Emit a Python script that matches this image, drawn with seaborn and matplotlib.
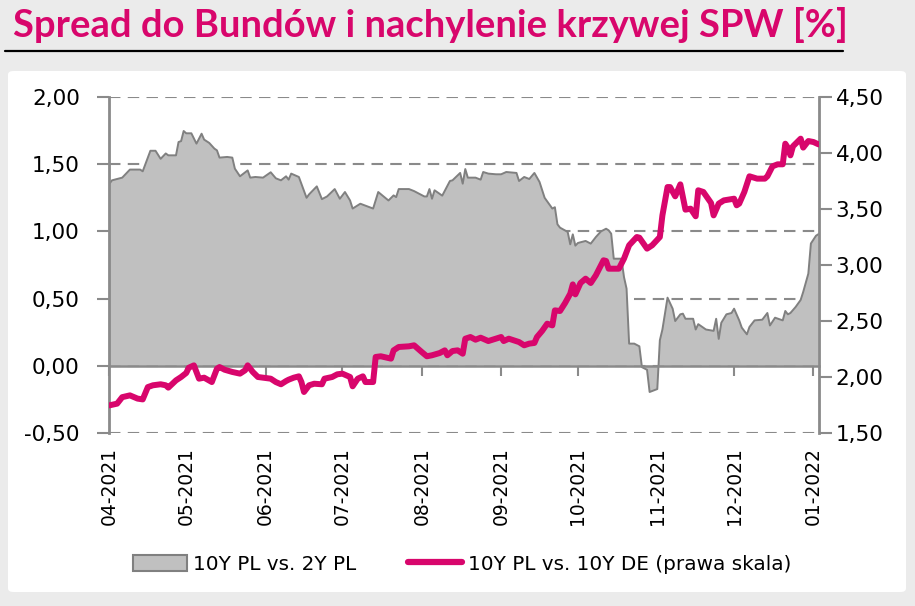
import numpy as np
import pandas as pd
import matplotlib
matplotlib.use("Agg")
import matplotlib.pyplot as plt
import matplotlib.dates as mdates
import seaborn as sns
from matplotlib.patches import FancyBboxPatch, Patch
from matplotlib.lines import Line2D
from matplotlib.ticker import FuncFormatter, FixedLocator

# ---------------- data ----------------
title = "Spread do Bundów i nachylenie krzywej SPW [%]"
label_gray = "10Y PL vs. 2Y PL"
label_pink = "10Y PL vs. 10Y DE (prawa skala)"

gray_dates = [
    "2021-04-01", "2021-04-02", "2021-04-06", "2021-04-09", "2021-04-13", "2021-04-14",
    "2021-04-17", "2021-04-19", "2021-04-21", "2021-04-23", "2021-04-24", "2021-04-27",
    "2021-04-28", "2021-04-29", "2021-04-30", "2021-05-01", "2021-05-03", "2021-05-05",
    "2021-05-07", "2021-05-08", "2021-05-10", "2021-05-12", "2021-05-13", "2021-05-14",
    "2021-05-17", "2021-05-19", "2021-05-20", "2021-05-22", "2021-05-25", "2021-05-26",
    "2021-05-28", "2021-05-31", "2021-06-03", "2021-06-05", "2021-06-07", "2021-06-09",
    "2021-06-10", "2021-06-11", "2021-06-14", "2021-06-17", "2021-06-18", "2021-06-21",
    "2021-06-23", "2021-06-25", "2021-06-28", "2021-06-30", "2021-07-02", "2021-07-04",
    "2021-07-05", "2021-07-08", "2021-07-13", "2021-07-15", "2021-07-19", "2021-07-21",
    "2021-07-22", "2021-07-23", "2021-07-27", "2021-07-29", "2021-08-02", "2021-08-03",
    "2021-08-04", "2021-08-05", "2021-08-06", "2021-08-09", "2021-08-12", "2021-08-13",
    "2021-08-16", "2021-08-17", "2021-08-18", "2021-08-19", "2021-08-22", "2021-08-24",
    "2021-08-25", "2021-08-27", "2021-08-30", "2021-09-01", "2021-09-03", "2021-09-07",
    "2021-09-08", "2021-09-10", "2021-09-12", "2021-09-14", "2021-09-16", "2021-09-18",
    "2021-09-21", "2021-09-22", "2021-09-23", "2021-09-24", "2021-09-27", "2021-09-28",
    "2021-09-29", "2021-09-30", "2021-10-01", "2021-10-04", "2021-10-06", "2021-10-08",
    "2021-10-10", "2021-10-12", "2021-10-13", "2021-10-14", "2021-10-15", "2021-10-18",
    "2021-10-19", "2021-10-20", "2021-10-21", "2021-10-23", "2021-10-25", "2021-10-26",
    "2021-10-28", "2021-10-29", "2021-11-01", "2021-11-02", "2021-11-03", "2021-11-05",
    "2021-11-07", "2021-11-08", "2021-11-10", "2021-11-11", "2021-11-12", "2021-11-15",
    "2021-11-16", "2021-11-17", "2021-11-20", "2021-11-23", "2021-11-24", "2021-11-25",
    "2021-11-26", "2021-11-28", "2021-11-30", "2021-12-01", "2021-12-03", "2021-12-04",
    "2021-12-06", "2021-12-07", "2021-12-09", "2021-12-12", "2021-12-14", "2021-12-15",
    "2021-12-17", "2021-12-20", "2021-12-21", "2021-12-22", "2021-12-23", "2021-12-25",
    "2021-12-27", "2021-12-28", "2021-12-30", "2021-12-31", "2022-01-02", "2022-01-03",
]
gray_values = [
    1.355, 1.38, 1.40, 1.46, 1.46, 1.447,
    1.60, 1.60, 1.54, 1.58, 1.566, 1.566,
    1.665, 1.672, 1.747, 1.73, 1.73, 1.653,
    1.727, 1.683, 1.658, 1.616, 1.603, 1.549,
    1.554, 1.549, 1.467, 1.41, 1.454, 1.40,
    1.405, 1.40, 1.44, 1.395, 1.38, 1.41,
    1.385, 1.43, 1.405, 1.25, 1.276, 1.335,
    1.24, 1.26, 1.315, 1.243, 1.293, 1.23,
    1.17, 1.206, 1.17, 1.293, 1.23, 1.268,
    1.255, 1.315, 1.315, 1.30, 1.26, 1.26,
    1.315, 1.243, 1.306, 1.266, 1.375, 1.38,
    1.435, 1.355, 1.464, 1.40, 1.40, 1.385,
    1.442, 1.43, 1.425, 1.425, 1.442, 1.435,
    1.375, 1.405, 1.39, 1.435, 1.368, 1.25,
    1.17, 1.18, 1.053, 1.028, 0.996, 0.904,
    0.978, 0.894, 0.914, 0.929, 0.909, 0.958,
    1.00, 1.02, 1.008, 0.983, 0.797, 0.797,
    0.66, 0.574, 0.165, 0.165, 0.145, -0.01,
    -0.03, -0.195, -0.173, 0.19, 0.27, 0.507,
    0.425, 0.333, 0.383, 0.388, 0.35, 0.35,
    0.27, 0.31, 0.27, 0.26, 0.35, 0.20,
    0.32, 0.383, 0.393, 0.425, 0.338, 0.284,
    0.234, 0.289, 0.338, 0.343, 0.393, 0.30,
    0.358, 0.338, 0.408, 0.383, 0.393, 0.437,
    0.49, 0.55, 0.686, 0.91, 0.968, 0.98,
]

pink_dates = [
    "2021-04-01", "2021-04-04", "2021-04-06", "2021-04-09", "2021-04-12", "2021-04-14",
    "2021-04-16", "2021-04-18", "2021-04-21", "2021-04-23", "2021-04-24", "2021-04-27",
    "2021-04-29", "2021-05-01", "2021-05-02", "2021-05-04", "2021-05-05", "2021-05-06",
    "2021-05-08", "2021-05-11", "2021-05-13", "2021-05-14", "2021-05-16", "2021-05-19",
    "2021-05-22", "2021-05-24", "2021-05-25", "2021-05-27", "2021-05-29", "2021-05-31",
    "2021-06-03", "2021-06-05", "2021-06-07", "2021-06-09", "2021-06-10", "2021-06-12",
    "2021-06-14", "2021-06-15", "2021-06-16", "2021-06-18", "2021-06-20", "2021-06-23",
    "2021-06-24", "2021-06-27", "2021-06-29", "2021-07-01", "2021-07-04", "2021-07-05",
    "2021-07-07", "2021-07-09", "2021-07-10", "2021-07-13", "2021-07-14", "2021-07-16",
    "2021-07-20", "2021-07-21", "2021-07-23", "2021-07-27", "2021-07-29", "2021-08-01",
    "2021-08-03", "2021-08-05", "2021-08-08", "2021-08-10", "2021-08-11", "2021-08-13",
    "2021-08-15", "2021-08-17", "2021-08-18", "2021-08-20", "2021-08-22", "2021-08-24",
    "2021-08-27", "2021-08-30", "2021-09-01", "2021-09-02", "2021-09-04", "2021-09-06",
    "2021-09-08", "2021-09-10", "2021-09-12", "2021-09-14", "2021-09-15", "2021-09-17",
    "2021-09-19", "2021-09-21", "2021-09-22", "2021-09-24", "2021-09-26", "2021-09-28",
    "2021-09-29", "2021-09-30", "2021-10-02", "2021-10-04", "2021-10-06", "2021-10-08",
    "2021-10-10", "2021-10-11", "2021-10-12", "2021-10-13", "2021-10-15", "2021-10-17",
    "2021-10-19", "2021-10-21", "2021-10-24", "2021-10-25", "2021-10-28", "2021-10-30",
    "2021-11-02", "2021-11-03", "2021-11-05", "2021-11-06", "2021-11-08", "2021-11-10",
    "2021-11-12", "2021-11-14", "2021-11-16", "2021-11-17", "2021-11-19", "2021-11-22",
    "2021-11-23", "2021-11-25", "2021-11-27", "2021-12-01", "2021-12-02", "2021-12-03",
    "2021-12-05", "2021-12-07", "2021-12-10", "2021-12-13", "2021-12-14", "2021-12-16",
    "2021-12-18", "2021-12-20", "2021-12-21", "2021-12-22", "2021-12-23", "2021-12-24",
    "2021-12-27", "2021-12-28", "2021-12-30", "2022-01-01", "2022-01-03",
]
pink_values = [
    1.747, 1.762, 1.82, 1.836, 1.807, 1.80,
    1.91, 1.926, 1.935, 1.926, 1.905, 1.97,
    2.0, 2.036, 2.083, 2.104, 2.045, 1.985,
    1.994, 1.955, 2.074, 2.089, 2.065, 2.045,
    2.03, 2.06, 2.104, 2.045, 2.0, 1.994,
    1.985, 1.955, 1.935, 1.964, 1.976, 1.994,
    2.006, 1.955, 1.866, 1.926, 1.94, 1.935,
    1.985, 2.0, 2.024, 2.03, 2.0, 1.917,
    1.985, 2.006, 1.955, 1.955, 2.179, 2.185,
    2.164, 2.238, 2.268, 2.274, 2.283, 2.223,
    2.185, 2.194, 2.214, 2.238, 2.194, 2.232,
    2.238, 2.208, 2.342, 2.357, 2.333, 2.351,
    2.321, 2.342, 2.357, 2.321, 2.342, 2.327,
    2.312, 2.283, 2.298, 2.304, 2.357, 2.411,
    2.476, 2.461, 2.595, 2.589, 2.661, 2.744,
    2.827, 2.738, 2.839, 2.878, 2.839, 2.908,
    2.997, 3.042, 3.036, 2.967, 2.967, 2.967,
    3.057, 3.176, 3.25, 3.244, 3.146, 3.176,
    3.25, 3.443, 3.696, 3.696, 3.613, 3.72,
    3.494, 3.503, 3.435, 3.667, 3.652, 3.554,
    3.443, 3.548, 3.577, 3.592, 3.533, 3.548,
    3.652, 3.792, 3.771, 3.771, 3.792, 3.881,
    3.899, 3.899, 4.083, 4.048, 3.979, 4.06,
    4.128, 4.048, 4.107, 4.098, 4.077,
]

left_ticks = [-0.5, 0.0, 0.5, 1.0, 1.5, 2.0]
right_ticks = [1.5, 2.0, 2.5, 3.0, 3.5, 4.0, 4.5]
x_start, x_end = "2021-03-31 20:00", "2022-01-03 04:00"

# ---------------- style ----------------
PINK = "#d8066c"
GRAY_FILL = "#c0c0c0"
GRAY_EDGE = "#808080"
AXIS_GRAY = "#8a8a8a"

sns.set_theme(style="white")
plt.rcParams["font.family"] = ["DejaVu Sans"]
plt.rcParams["text.color"] = "black"

W, H = 915, 606
fig = plt.figure(figsize=(W / 100, H / 100), dpi=100, facecolor="#ebebeb")

panel = FancyBboxPatch((8 / W, 1 - 592 / H), (906 - 8) / W, (592 - 71) / H,
                       boxstyle="round,pad=0,rounding_size=0.006",
                       transform=fig.transFigure, facecolor="white",
                       edgecolor="none", zorder=-10)
fig.patches.append(panel)

# title (scaled to its width in the reference)
t = fig.text(13 / W, 1 - 37 / H, title, color=PINK, fontweight="bold",
             fontsize=26, family=["Lato", "DejaVu Sans"], va="baseline", ha="left")
fig.canvas.draw()
bb = t.get_window_extent()
t.set_fontsize(26 * (835 / bb.width))
fig.add_artist(Line2D([5 / W, 843 / W], [1 - 51 / H, 1 - 51 / H],
                      transform=fig.transFigure, color="black", lw=1.6))

# ---------------- axes ----------------
ax = fig.add_axes([109 / W, 1 - 433 / H, 710 / W, 336 / H])
ax.set_zorder(1)
ax.set_facecolor("white")

xg = mdates.date2num(pd.to_datetime(gray_dates))
xp = mdates.date2num(pd.to_datetime(pink_dates))

ax.fill_between(xg, 0, gray_values, facecolor=GRAY_FILL, edgecolor="none", zorder=2)
sns.lineplot(x=xg, y=gray_values, ax=ax, color=GRAY_EDGE, lw=1.4,
             sort=False, estimator=None, zorder=3)

ax.set_xlim(mdates.date2num(pd.Timestamp(x_start)), mdates.date2num(pd.Timestamp(x_end)))
ax.set_ylim(-0.5, 2.0)
ax.yaxis.set_major_locator(FixedLocator(left_ticks))
fmt = FuncFormatter(lambda v, p: f"{v:.2f}".replace(".", ","))
ax.yaxis.set_major_formatter(fmt)
ax.yaxis.grid(True, color=AXIS_GRAY, lw=1.5, ls=(0, (5.5, 3.5)))
ax.xaxis.grid(False)
ax.set_axisbelow(True)
for s in ["top", "right"]:
    ax.spines[s].set_visible(False)
ax.spines["left"].set_color(AXIS_GRAY)
ax.spines["left"].set_linewidth(2)
ax.spines["left"].set_zorder(5)
ax.spines["bottom"].set_position(("data", 0))
ax.spines["bottom"].set_color(AXIS_GRAY)
ax.spines["bottom"].set_linewidth(1.8)
ax.spines["bottom"].set_zorder(4)

ax.xaxis.set_major_locator(mdates.MonthLocator())
ax.tick_params(axis="x", direction="out", length=7, width=1.5, color=AXIS_GRAY,
               labelbottom=False, bottom=True)
ax.tick_params(axis="y", direction="out", length=9, width=1.5, color=AXIS_GRAY,
               labelsize=15.5, labelcolor="black", pad=12, left=True)
ax.set_xlabel("")
ax.set_ylabel("")

# month labels along the bottom
sec = ax.secondary_xaxis(0)
sec.xaxis.set_major_locator(mdates.MonthLocator())
sec.xaxis.set_major_formatter(mdates.DateFormatter("%m-%Y"))
sec.tick_params(axis="x", length=0, labelsize=13.5, labelrotation=90, pad=10,
                labelcolor="black")
sec.spines["bottom"].set_visible(False)

# right axis
ax2 = ax.twinx()
sns.lineplot(x=xp, y=pink_values, ax=ax2, color=PINK, lw=4.3, sort=False,
             estimator=None, zorder=6)
for ln in ax2.get_lines():
    ln.set_solid_joinstyle("round")
    ln.set_solid_capstyle("round")
ax2.set_ylim(1.5, 4.5)
ax2.yaxis.set_major_locator(FixedLocator(right_ticks))
ax2.yaxis.set_major_formatter(fmt)
ax2.grid(False)
for s in ["top", "left", "bottom"]:
    ax2.spines[s].set_visible(False)
ax2.spines["right"].set_color(AXIS_GRAY)
ax2.spines["right"].set_linewidth(2)
ax2.tick_params(axis="y", direction="out", length=9, width=1.5, color=AXIS_GRAY,
                labelsize=15.5, labelcolor="black", pad=3, right=True)
ax2.set_ylabel("")
ax2.set_xlim(ax.get_xlim())

# legend
handles = [Patch(facecolor=GRAY_FILL, edgecolor=GRAY_EDGE, lw=1.5),
           Line2D([0], [0], color=PINK, lw=4.5, solid_capstyle="round")]
leg = fig.legend(handles, [label_gray, label_pink], loc="center",
                 bbox_to_anchor=(462 / W, 1 - 564 / H), ncol=2, frameon=False,
                 fontsize=14.4, handlelength=2.7, handleheight=0.85,
                 columnspacing=2.6, handletextpad=0.3)
for txt in leg.get_texts():
    txt.set_color("black")

fig.savefig("out.png", dpi=100, facecolor=fig.get_facecolor())
